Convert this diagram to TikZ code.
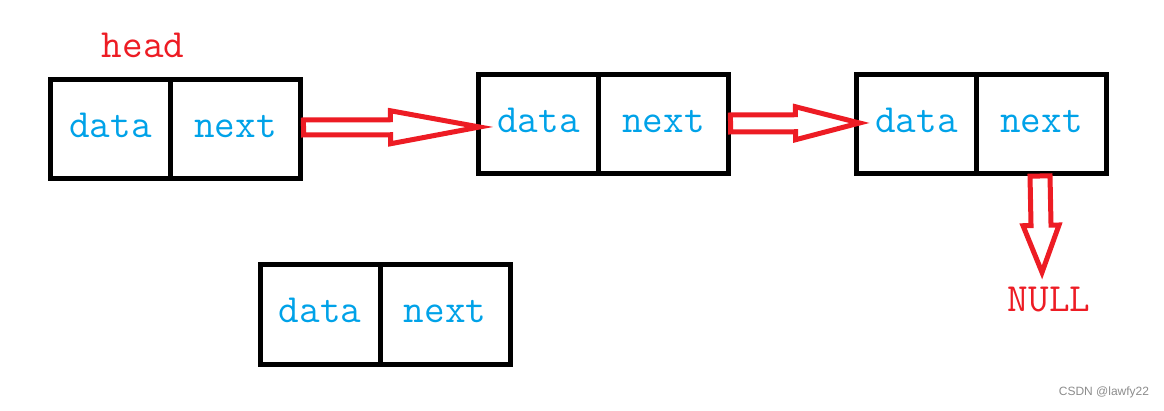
\documentclass[tikz,border=0pt]{standalone}
\usepackage{fontspec}
\newfontfamily\wmfont{Liberation Sans}
\usetikzlibrary{calc, positioning}
\definecolor{linkred}{RGB}{237,28,36}
\definecolor{linkblue}{RGB}{0,162,232}
% #1 start, #2 tip, #3 head length, #4 half shaft, #5 half head
\newcommand{\blockarrow}[5]{%
    \coordinate (ba-h) at ($(#2)!#3!(#1)$);
    \draw[hollow] ($(#1)!#4!90:(#2)$) -- ($(ba-h)!#4!90:(#2)$) -- ($(ba-h)!#5!90:(#2)$)
        -- (#2) -- ($(ba-h)!#5!-90:(#2)$) -- ($(ba-h)!#4!-90:(#2)$) -- ($(#1)!#4!-90:(#2)$) -- cycle;
}

\begin{document}
\begin{tikzpicture}[x=1pt, y=-1pt,
    cell/.style={draw, line width=5pt, outer sep=0pt, inner sep=0pt, minimum height=99pt,
        text height=17pt, text depth=0pt, text=linkblue, font=\ttfamily\fontsize{40}{40}\selectfont},
    datacell/.style={cell, minimum width=120pt},
    nextcell/.style={cell, minimum width=130pt},
    hollow/.style={draw=linkred, line width=5pt},
    tag/.style={text=linkred, inner sep=0pt, anchor=base, font=\ttfamily\fontsize{40}{40}\selectfont}]
                \useasboundingbox (0,0) rectangle (1164,411);

                \node[datacell] (d1) at (110.5,129.5) {data};
                \node[nextcell, right=0pt of d1] (n1) {next};
                \node[datacell] (d2) at (538.5,124.5) {data};
                \node[nextcell, right=0pt of d2] (n2) {next};
                \node[datacell] (d3) at (916.5,124.5) {data};
                \node[nextcell, right=0pt of d3] (n3) {next};
                \node[datacell] (d4) at (320,314.5) {data};
                \node[nextcell, right=0pt of d4] (n4) {next};

                \node[tag] (head) at (143,58) {head};
                \node[tag] (null) at (1049,312) {NULL};

                \blockarrow{$(n1.east)+(3,-2)$}{$(d2.west)+(1,2.5)$}{89pt}{7.5pt}{16.5pt}
                \blockarrow{$(n2.east)+(2,-1)$}{$(d3.west)+(3,-1.5)$}{64pt}{8.5pt}{16.5pt}
                \blockarrow{$(n3.south)+(-1.5,2)$}{$(null.north)+(-7,-15)$}{47pt}{10pt}{18pt}

                \node[text=black!45, font=\wmfont\fontsize{12}{12}\selectfont] (wm) at (1104,392) {CSDN @lawfy22};
            \end{tikzpicture}
\end{document}
